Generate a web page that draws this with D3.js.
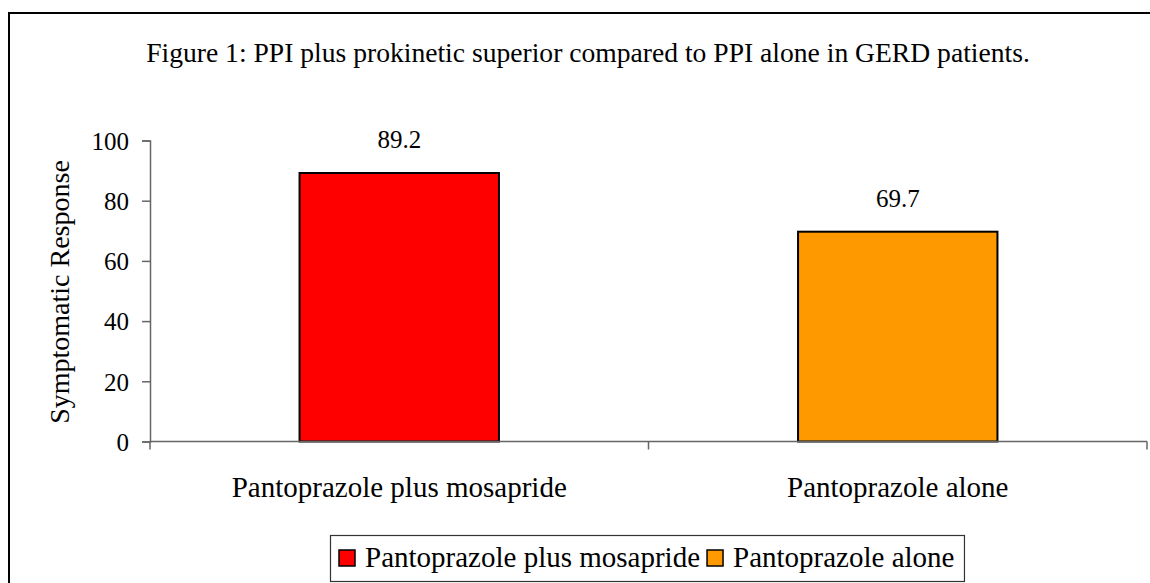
<!DOCTYPE html>
<html>
<head>
<meta charset="utf-8">
<script src="https://cdn.jsdelivr.net/npm/d3@7"></script>
<style>
  html, body { margin: 0; padding: 0; background: #fff; }
  svg { display: block; }
  text { font-family: "Liberation Serif", "Times New Roman", serif; fill: #000; }
</style>
</head>
<body>
<div id="chart"></div>
<script>
// data
const categories = ["Pantoprazole plus mosapride", "Pantoprazole alone"];
const values = [89.2, 69.7];
const colors = ["#ff0000", "#ff9900"];
const yTicks = [0, 20, 40, 60, 80, 100];
const title = "Figure 1: PPI plus prokinetic superior compared to PPI alone in GERD patients.";
const yTitle = "Symptomatic Response";

const width = 1150, height = 583;
const titleSize = 27.6;
const labelSize = 29;  // category + legend labels
const numSize = 25;    // numbers

const svg = d3.select("#chart")
    .append("svg")
    .attr("width", width)
    .attr("height", height);

// outer frame (runs off the right and bottom)
svg.append("rect")
    .attr("x", 9).attr("y", 13)
    .attr("width", 1200).attr("height", 700)
    .attr("fill", "none")
    .attr("stroke", "#000")
    .attr("stroke-width", 2);

const plot = { left: 150, right: 1147, top: 140.5, bottom: 441.5 };

const x = d3.scaleBand()
    .domain(categories)
    .range([plot.left, plot.right])
    .padding(0);

const y = d3.scaleLinear()
    .domain([0, 100])
    .range([plot.bottom, plot.top]);

const barW = x.bandwidth() * 0.4;

// title
svg.append("text")
    .attr("x", 588).attr("y", 62)
    .attr("text-anchor", "middle")
    .style("font-size", titleSize + "px")
    .text(title);

// bars
svg.selectAll(".bar")
    .data(categories)
    .enter()
    .append("rect")
    .attr("class", "bar")
    .attr("x", (d) => x(d) + x.bandwidth() / 2 - barW / 2)
    .attr("y", (d, i) => y(values[i]))
    .attr("width", barW)
    .attr("height", (d, i) => y(0) - y(values[i]))
    .attr("fill", (d, i) => colors[i])
    .attr("stroke", "#000")
    .attr("stroke-width", 2);

// value labels
svg.selectAll(".val")
    .data(categories)
    .enter()
    .append("text")
    .attr("class", "val")
    .attr("x", (d) => x(d) + x.bandwidth() / 2)
    .attr("y", (d, i) => y(values[i]) - 25)
    .attr("text-anchor", "middle")
    .style("font-size", numSize + "px")
    .text((d, i) => values[i].toFixed(1));

// y axis
const yAxis = svg.append("g")
    .attr("transform", `translate(${plot.left},0)`)
    .call(d3.axisLeft(y).tickValues(yTicks).tickSize(8).tickPadding(13));
yAxis.select(".domain").attr("stroke", "#666").attr("stroke-width", 1.5);
yAxis.selectAll(".tick line").attr("stroke", "#666").attr("stroke-width", 1.5);
yAxis.selectAll(".tick text")
    .attr("font-family", null)
    .attr("dy", "0.35em")
    .style("font-size", numSize + "px");

// x axis: ticks sit on the band edges
const xEdges = categories.map((c) => x(c)).concat([plot.right]);
svg.append("line")
    .attr("x1", plot.left).attr("x2", plot.right)
    .attr("y1", plot.bottom).attr("y2", plot.bottom)
    .attr("stroke", "#666").attr("stroke-width", 1.5);
svg.selectAll(".xtick")
    .data(xEdges)
    .enter()
    .append("line")
    .attr("x1", (d) => d).attr("x2", (d) => d)
    .attr("y1", plot.bottom).attr("y2", plot.bottom + 8)
    .attr("stroke", "#666").attr("stroke-width", 1.5);
svg.selectAll(".xlab")
    .data(categories)
    .enter()
    .append("text")
    .attr("x", (d) => x(d) + x.bandwidth() / 2)
    .attr("y", 497)
    .attr("text-anchor", "middle")
    .style("font-size", labelSize + "px")
    .text((d) => d);

// y title
svg.append("text")
    .attr("transform", "translate(69,292) rotate(-90)")
    .attr("text-anchor", "middle")
    .style("font-size", "28px")
    .text(yTitle);

// legend
const legend = svg.append("g");
const legendBox = legend.append("rect")
    .attr("fill", "#fff")
    .attr("stroke", "#333")
    .attr("stroke-width", 1.2);
let lx = 339;
const ly = 558;
categories.forEach((c, i) => {
    legend.append("rect")
        .attr("x", lx).attr("y", ly - 8)
        .attr("width", 16).attr("height", 16)
        .attr("fill", colors[i])
        .attr("stroke", "#000").attr("stroke-width", 1.5);
    const t = legend.append("text")
        .attr("x", lx + 26).attr("y", ly + 9)
        .style("font-size", labelSize + "px")
        .text(c);
    lx += 26 + t.node().getComputedTextLength() + 7;
});
legendBox
    .attr("x", 330.5).attr("y", 535.5)
    .attr("width", lx + 3 - 330.5).attr("height", 46);
</script>
</body>
</html>
